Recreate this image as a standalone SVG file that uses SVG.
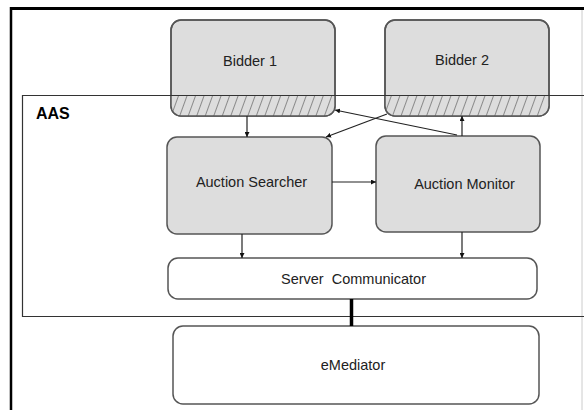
<svg xmlns="http://www.w3.org/2000/svg" width="584" height="410" viewBox="0 0 584 410">
<style>
.node{fill:#dddddd;stroke:#555555;stroke-width:1.5}
.plain{fill:#ffffff;stroke:#555555;stroke-width:1.5}
.lbl{font-family:"Liberation Sans",Arial,sans-serif;font-size:14.5px;fill:#222222;text-anchor:middle}
.conn{stroke:#222222;stroke-width:1.2;fill:none}
</style>
<defs>
<pattern id="hatch" width="8" height="8" patternUnits="userSpaceOnUse" patternTransform="rotate(20)">
<rect width="8" height="8" fill="#dddddd"/>
<line x1="0" y1="0" x2="0" y2="8" stroke="#444444" stroke-width="1.1"/>
</pattern>
<clipPath id="cb1"><rect x="171" y="20" width="164" height="96" rx="10"/></clipPath>
<clipPath id="cb2"><rect x="385" y="20" width="164" height="96" rx="10"/></clipPath>
<marker id="ah" viewBox="0 0 10 10" refX="10" refY="5" markerWidth="5" markerHeight="5" orient="auto" markerUnits="userSpaceOnUse">
<path d="M0,0 L10,5 L0,10 z" fill="#111111"/>
</marker>
</defs>
<rect width="584" height="410" fill="#ffffff"/>
<g id="frame">
<line x1="582" y1="8" x2="582" y2="410" stroke="#cccccc" stroke-width="1"/>
<line x1="10" y1="8.5" x2="584" y2="8.5" stroke="#000000" stroke-width="3"/>
<line x1="11" y1="7" x2="11" y2="410" stroke="#000000" stroke-width="2.5"/>
</g>
<g id="bidder1">
<rect class="node" x="171" y="20" width="164" height="96" rx="10"/>
<rect x="171" y="95" width="164" height="21" fill="url(#hatch)" clip-path="url(#cb1)"/>
<rect x="171" y="20" width="164" height="96" rx="10" fill="none" stroke="#555555" stroke-width="1.5"/>
<text class="lbl" x="250" y="66">Bidder 1</text>
</g>
<g id="bidder2">
<rect class="node" x="385" y="20" width="164" height="96" rx="10"/>
<rect x="385" y="95" width="164" height="21" fill="url(#hatch)" clip-path="url(#cb2)"/>
<rect x="385" y="20" width="164" height="96" rx="10" fill="none" stroke="#555555" stroke-width="1.5"/>
<text class="lbl" x="462" y="65">Bidder 2</text>
</g>
<g id="aas">
<path d="M590,95.5 L22.5,95.5 L22.5,316.5 L590,316.5" fill="none" stroke="#333333" stroke-width="1.2"/>
<text x="36" y="119" font-family="Liberation Sans, Arial, sans-serif" font-size="16" font-weight="bold" fill="#000000">AAS</text>
</g>
<g id="searcher">
<rect class="node" x="167" y="137" width="165" height="97" rx="10"/>
<text class="lbl" x="251.5" y="187">Auction Searcher</text>
</g>
<g id="monitor">
<rect class="node" x="376" y="136" width="164" height="96" rx="10"/>
<text class="lbl" x="464.5" y="189">Auction Monitor</text>
</g>
<g id="server">
<rect class="plain" x="168" y="258" width="369" height="41" rx="10"/>
<text class="lbl" x="353.5" y="284" xml:space="preserve">Server  Communicator</text>
</g>
<g id="emediator">
<rect class="plain" x="173" y="326" width="366" height="78" rx="10"/>
<text class="lbl" x="353" y="370">eMediator</text>
</g>
<g id="connectors">
<line class="conn" x1="247" y1="116" x2="247" y2="137" marker-end="url(#ah)"/>
<line class="conn" x1="387" y1="114" x2="326" y2="137" marker-end="url(#ah)"/>
<line class="conn" x1="457" y1="135" x2="335" y2="110" marker-end="url(#ah)"/>
<line class="conn" x1="462" y1="136" x2="462" y2="116" marker-end="url(#ah)"/>
<line class="conn" x1="332" y1="182" x2="376" y2="182" marker-end="url(#ah)"/>
<line class="conn" x1="242" y1="234" x2="242" y2="258" marker-end="url(#ah)"/>
<line class="conn" x1="462" y1="232" x2="462" y2="258" marker-end="url(#ah)"/>
<line x1="351.5" y1="299" x2="351.5" y2="326" stroke="#000000" stroke-width="3.5"/>
</g>
</svg>
